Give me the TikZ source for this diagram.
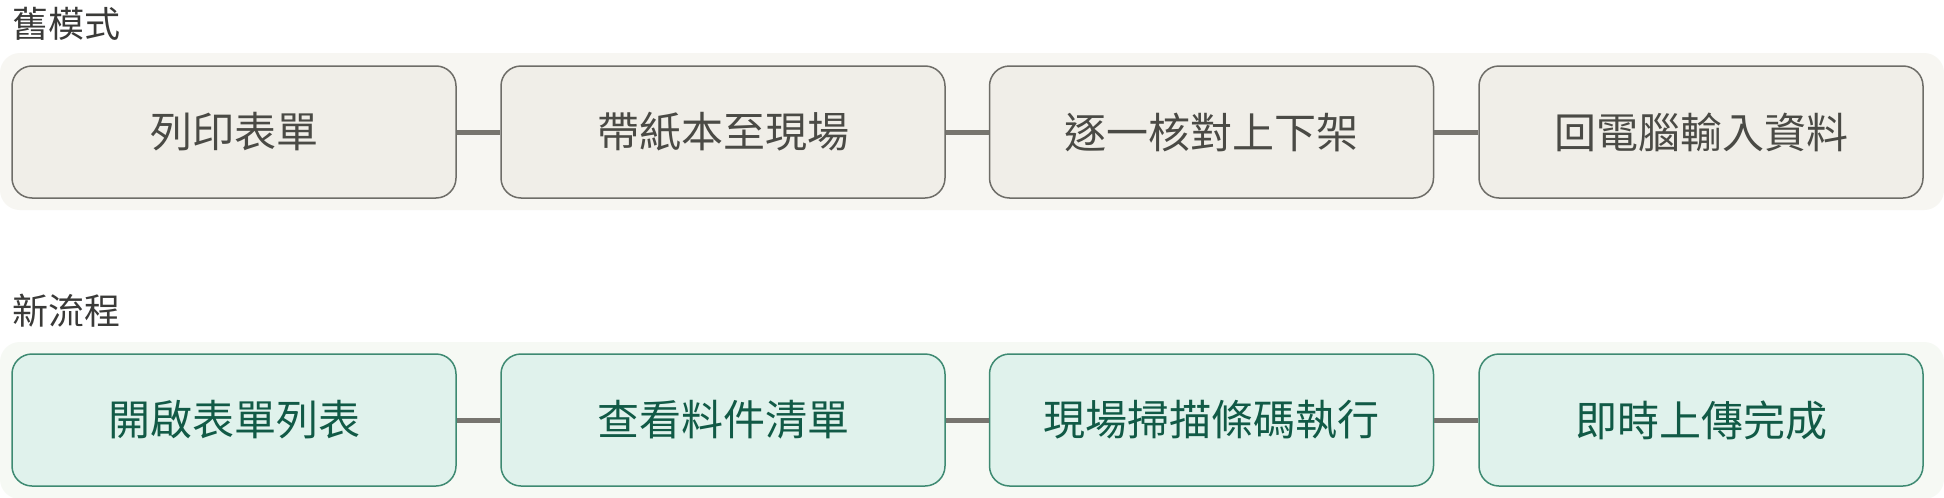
\documentclass[tikz,border=0pt]{standalone}
\usepackage{fontspec}
\setmainfont{Noto Sans CJK TC}
\definecolor{oldpanel}{HTML}{F7F6F2}
\definecolor{oldfill}{HTML}{F0EEE8}
\definecolor{olddraw}{HTML}{6E6D68}
\definecolor{oldtext}{HTML}{4A4A45}
\definecolor{newpanel}{HTML}{F6F9F4}
\definecolor{newfill}{HTML}{E0F2EC}
\definecolor{newdraw}{HTML}{3E8A72}
\definecolor{newtext}{HTML}{115A46}
\definecolor{linkcol}{HTML}{77756F}
\definecolor{titlecol}{HTML}{3A3A38}
\tikzset{
  oldbox/.style={draw=olddraw, fill=oldfill, text=oldtext, line width=1.5pt, rounded corners=20pt,
    minimum width=444pt, minimum height=132pt, inner sep=0pt, font=\fontsize{42pt}{48pt}\selectfont},
  newbox/.style={draw=newdraw, fill=newfill, text=newtext, line width=1.5pt, rounded corners=20pt,
    minimum width=444pt, minimum height=132pt, inner sep=0pt, font=\fontsize{42pt}{48pt}\selectfont},
  link/.style={draw=linkcol, line width=5pt},
  rowtitle/.style={anchor=west, inner sep=0pt, text=titlecol, font=\fontsize{36pt}{42pt}\selectfont},
}
\begin{document}
\begin{tikzpicture}[x=1pt,y=-1pt]
\useasboundingbox (0,0) rectangle (1944,498);
\fill[white] (0,0) rectangle (1944,498);
% panels
\fill[oldpanel, rounded corners=20pt] (0,53) rectangle (1944,210);
\fill[newpanel, rounded corners=20pt] (0,342) rectangle (1944,499);
% titles
\node[rowtitle] (t1) at (12,24) {舊模式};
\node[rowtitle] (t2) at (12,311) {新流程};
% old row
\node[oldbox] (o1) at (234,132) {列印表單};
\node[oldbox] (o2) at (723,132) {帶紙本至現場};
\node[oldbox] (o3) at (1211.5,132) {逐一核對上下架};
\node[oldbox] (o4) at (1701,132) {回電腦輸入資料};
\draw[link] (o1.east) -- (o2.west);
\draw[link] (o2.east) -- (o3.west);
\draw[link] (o3.east) -- (o4.west);
% new row
\node[newbox] (n1) at (234,420) {開啟表單列表};
\node[newbox] (n2) at (723,420) {查看料件清單};
\node[newbox] (n3) at (1211.5,420) {現場掃描條碼執行};
\node[newbox] (n4) at (1701,420) {即時上傳完成};
\draw[link] (n1.east) -- (n2.west);
\draw[link] (n2.east) -- (n3.west);
\draw[link] (n3.east) -- (n4.west);
\end{tikzpicture}
\end{document}
